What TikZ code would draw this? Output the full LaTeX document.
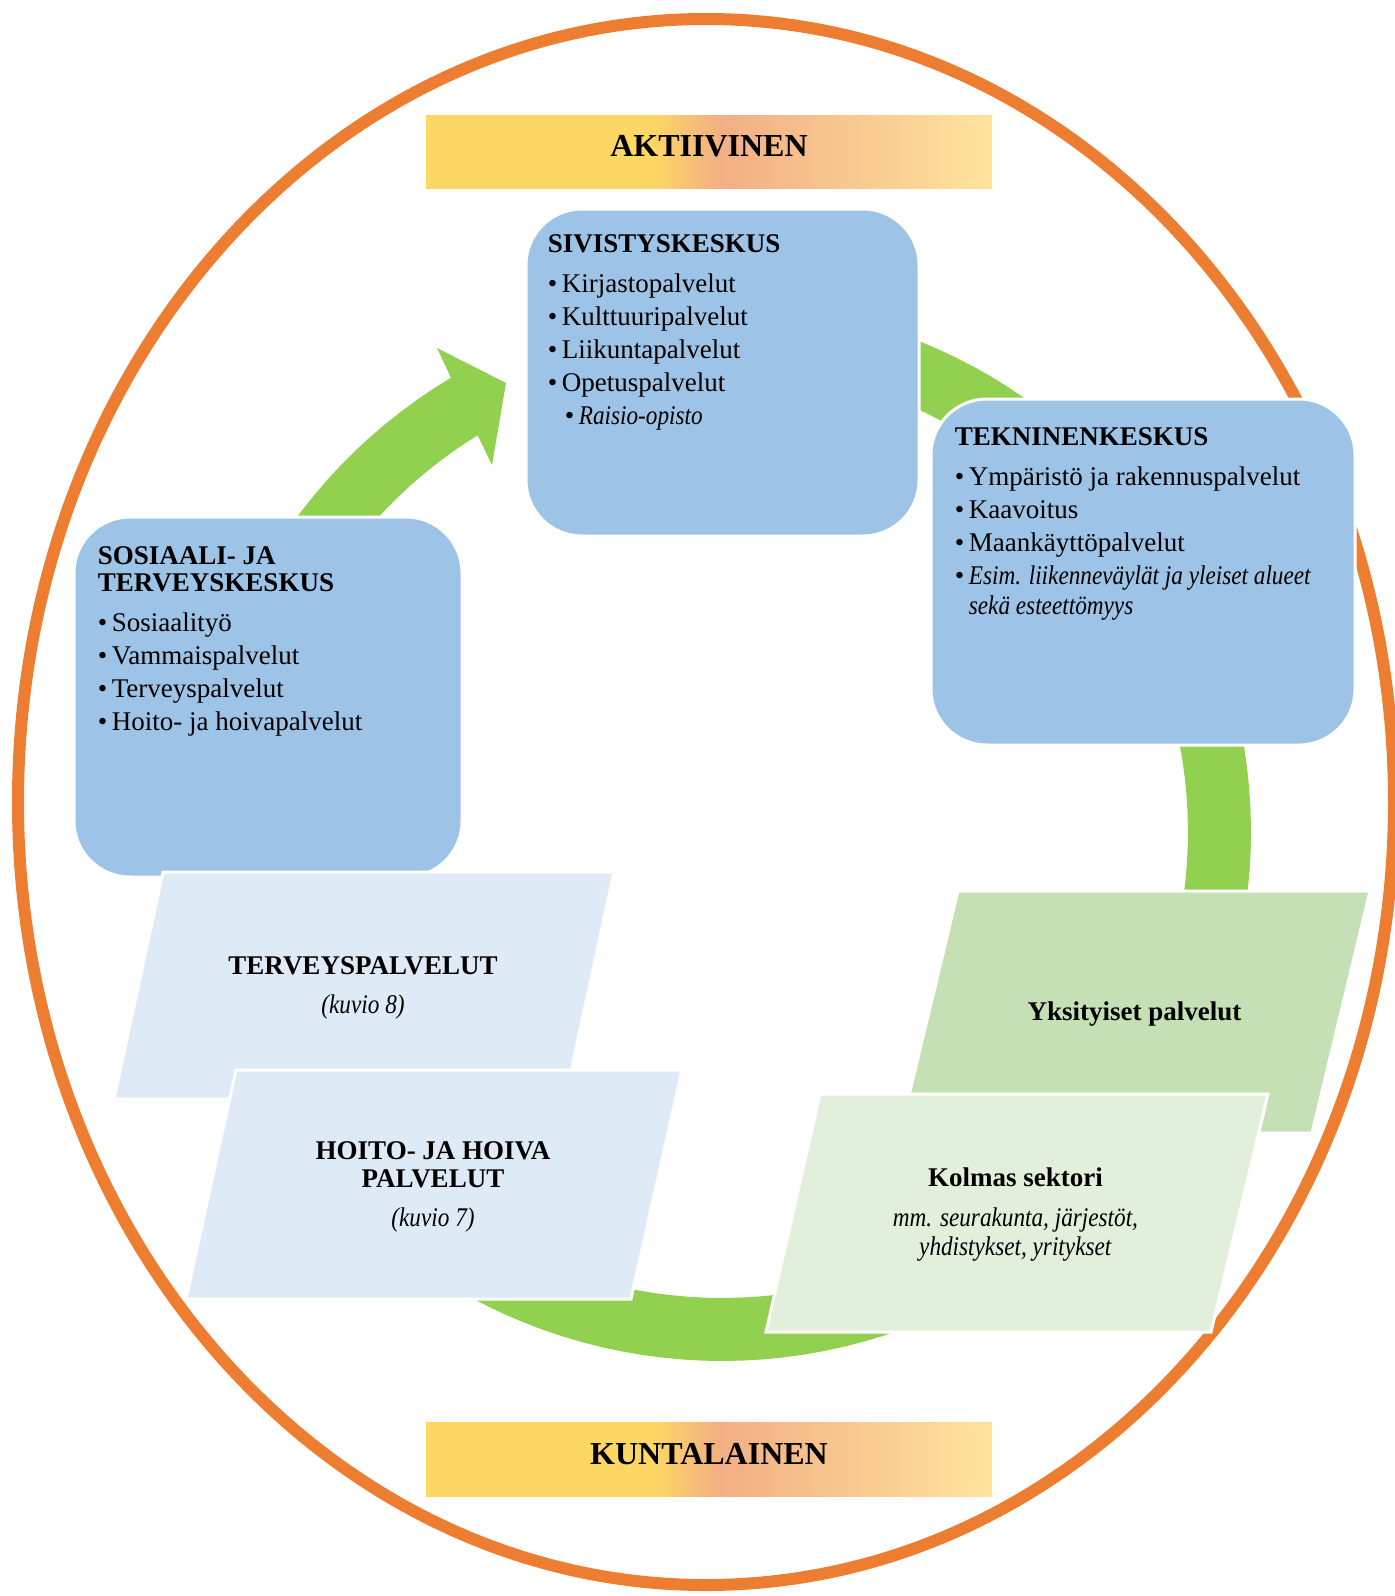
\documentclass[tikz,border=0pt]{standalone}
\usepackage{fontspec}
\setmainfont{Liberation Serif}[ItalicFeatures={FakeStretch=0.86}]
\usetikzlibrary{positioning}
\definecolor{oranssi}{HTML}{ED7D31}
\definecolor{vihrea}{HTML}{92D050}
\definecolor{sininen}{HTML}{9DC3E6}
\definecolor{vaaleansininen}{HTML}{DEEAF6}
\definecolor{yksvihrea}{HTML}{C5E0B4}
\definecolor{kolmasvihrea}{HTML}{E2EFDA}
\definecolor{keltainen}{HTML}{FDD764}
\definecolor{lohi}{HTML}{F2AF84}
\definecolor{vaaleankeltainen}{HTML}{FEE49D}
\pgfdeclarehorizontalshading{banneri}{100bp}{color(0bp)=(keltainen); color(45bp)=(keltainen); color(51bp)=(lohi); color(75bp)=(vaaleankeltainen); color(100bp)=(vaaleankeltainen)}

\begin{document}
\begin{tikzpicture}[x=0.5pt, y=-0.5pt,
    every node/.style={inner sep=0pt, font=\fontsize{13.5}{16.5}\selectfont},
    bannerinauha/.style={shade, shading=banneri, minimum width=283pt, minimum height=36.5pt},
    bannerteksti/.style={font=\fontsize{16}{19}\selectfont\bfseries},
    keskus/.style={draw=white, line width=1.5pt, fill=sininen, rounded corners=28pt},
    lista/.style={align=left},
    suunnikas/.style={draw=white, line width=1.5pt},
    keskiteksti/.style={align=center, anchor=north},
    kaari/.style={draw=vihrea, line width=31.5pt}]
    \useasboundingbox (0,0) rectangle (1395,1596);

    % Outer ellipse
    \draw[oranssi, line width=6pt] (706,802) ellipse [x radius=344pt, y radius=391.5pt];

    % Green cycle and arrow
    \coordinate (keskipiste) at (722,832);
    \begin{scope}[shift={(keskipiste)}, yscale=-1]
        \draw[kaari] plot[domain=110:-239.2, samples=160] (\x:497.5);
    \end{scope}
    \fill[vihrea] (451,378) -- (437,348) -- (506,383) -- (492,465) -- (478,436) -- cycle;

    % Banners
    \node[bannerinauha] (aktiivinen) at (709,151.5) {};
    \node[bannerteksti] (aktiivinenteksti) at ([yshift=2.5pt]aktiivinen.center) {AKTIIVINEN};
    \node[bannerinauha, minimum height=37pt] (kuntalainen) at (709,1459) {};
    \node[bannerteksti] (kuntalainenteksti) at ([yshift=2.5pt]kuntalainen.center) {KUNTALAINEN};

    % Centres
    \node[keskus, minimum width=196.5pt, minimum height=163.5pt] (sivistys) at (722.5,372.5) {};
    \node[lista, below right=13.5pt and 11.5pt of sivistys.north west] (sivistysteksti)
        {\textbf{SIVISTYSKESKUS}\\[3.5pt]
         •\,Kirjastopalvelut\\
         •\,Kulttuuripalvelut\\
         •\,Liikuntapalvelut\\
         •\,Opetuspalvelut\\
         \hspace*{8.5pt}•\,\textit{Raisio-opisto}};

    \node[keskus, minimum width=212pt, minimum height=173pt] (tekninen) at (1143,572) {};
    \node[lista, below right=15pt and 12.5pt of tekninen.north west] (tekninenteksti)
        {\textbf{TEKNINENKESKUS}\\[3.5pt]
         •\,Ympäristö ja rakennuspalvelut\\
         •\,Kaavoitus\\
         •\,Maankäyttöpalvelut\\
         •\,\textit{Esim. liikenneväylät ja yleiset alueet}\\[-1.75pt]
         \phantom{•\,}\textit{sekä esteettömyys}};

    \node[keskus, minimum width=194pt, minimum height=180pt] (sosiaali) at (268,697) {};
    \node[lista, below right=15.25pt and 12.5pt of sosiaali.north west] (sosiaaliteksti)
        {\textbf{SOSIAALI- JA}\\[-2.75pt]
         \textbf{TERVEYSKESKUS}\\[3.5pt]
         •\,Sosiaalityö\\
         •\,Vammaispalvelut\\
         •\,Terveyspalvelut\\
         •\,Hoito- ja hoivapalvelut};

    % Service areas
    \draw[suunnikas, fill=vaaleansininen] (163,872) -- (614,872) -- (565,1099) -- (114,1099) -- cycle;
    \node[keskiteksti] (terveys) at (363,956)
        {\textbf{TERVEYSPALVELUT}\\[3pt]\textit{(kuvio 8)}};
    \draw[suunnikas, fill=vaaleansininen] (236,1070) -- (682,1070) -- (631,1299) -- (186,1299) -- cycle;
    \node[keskiteksti] (hoito) at (433,1141)
        {\textbf{HOITO- JA HOIVA}\\[-2.25pt]\textbf{PALVELUT}\\[3pt]\textit{(kuvio 7)}};

    \draw[suunnikas, fill=yksvihrea] (958,891) -- (1370,891) -- (1312,1133) -- (900,1133) -- cycle;
    \node[keskiteksti] (yksityiset) at (1134.5,1001) {\textbf{Yksityiset palvelut}};
    \draw[suunnikas, fill=kolmasvihrea] (820,1094) -- (1268,1094) -- (1211,1332) -- (766,1332) -- cycle;
    \node[keskiteksti] (kolmas) at (1015.5,1167)
        {\textbf{Kolmas sektori}\\[3.5pt]
         \textit{mm. seurakunta, järjestöt,}\\[-1.75pt]
         \textit{yhdistykset, yritykset}};
\end{tikzpicture}
\end{document}
